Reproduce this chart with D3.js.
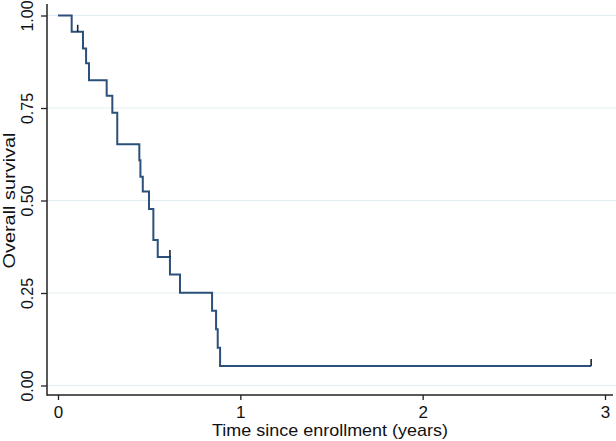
<!DOCTYPE html>
<html>
<head>
<meta charset="utf-8">
<script src="https://cdn.jsdelivr.net/npm/d3@7"></script>
<style>
  body { margin: 0; background: #fff; }
  text { font-family: "Liberation Sans", Arial, sans-serif; fill: #111; }
</style>
</head>
<body>
<div id="container"></div>
<script>
// Kaplan-Meier steps
var eventTimes = [0.075, 0.137, 0.154, 0.170, 0.267, 0.298, 0.325, 0.446, 0.452, 0.465,
                  0.499, 0.523, 0.547, 0.614, 0.669, 0.845, 0.867, 0.876, 0.889];
var survival = [0.956, 0.911, 0.871, 0.825, 0.783, 0.737, 0.652, 0.609, 0.564, 0.524,
                0.477, 0.393, 0.347, 0.300, 0.251, 0.202, 0.152, 0.102, 0.053];
var censorTimes = [0.108, 0.614, 2.924];
var censorSurv = [0.956, 0.347, 0.053];
var yTicks = [0, 0.25, 0.5, 0.75, 1];
var xTicks = [0, 1, 2, 3];

var width = 616,
    height = 441;

var svg = d3.select("#container").append("svg")
    .attr("width", width)
    .attr("height", height);

var x = d3.scaleLinear().domain([0, 3]).range([58, 605]);
var y = d3.scaleLinear().domain([0, 1]).range([385.5, 15.5]);

var axisX = 47, axisY = 395;

// gridlines
svg.selectAll(".grid").data(yTicks)
    .enter().append("line")
    .attr("x1", axisX).attr("x2", width)
    .attr("y1", function (d) { return y(d); })
    .attr("y2", function (d) { return y(d); })
    .attr("stroke", "#e3edf1")
    .attr("stroke-width", 1.2);

// y axis
var gy = svg.append("g")
    .attr("transform", "translate(" + axisX + ",0)")
    .call(d3.axisLeft(y).tickValues(yTicks).tickSize(6).tickPadding(8)
        .tickFormat(d3.format(".2f")));
gy.select(".domain").remove();
gy.selectAll(".tick line").attr("stroke", "#222").attr("stroke-width", 1.3);
gy.selectAll(".tick text")
    .attr("x", null).attr("dy", null)
    .attr("transform", "translate(-14,0) rotate(-90)")
    .attr("text-anchor", "middle")
    .style("font-size", "16px");

// x axis
var gx = svg.append("g")
    .attr("transform", "translate(0," + axisY + ")")
    .call(d3.axisBottom(x).tickValues(xTicks).tickSize(5).tickPadding(6)
        .tickFormat(d3.format("d")));
gx.select(".domain").remove();
gx.selectAll(".tick line").attr("stroke", "#222").attr("stroke-width", 1.3);
gx.selectAll(".tick text").style("font-size", "17px");

// axis lines
svg.append("line").attr("x1", axisX).attr("x2", axisX).attr("y1", 4).attr("y2", axisY + 0.7)
    .attr("stroke", "#222").attr("stroke-width", 1.5);
svg.append("line").attr("x1", axisX).attr("x2", 613).attr("y1", axisY).attr("y2", axisY)
    .attr("stroke", "#222").attr("stroke-width", 1.5);

// titles
svg.append("text")
    .attr("transform", "translate(15," + ((y(0) + y(1)) / 2) + ") rotate(-90)")
    .attr("text-anchor", "middle")
    .attr("textLength", 136).attr("lengthAdjust", "spacingAndGlyphs")
    .style("font-size", "16px")
    .text("Overall survival");

svg.append("text")
    .attr("x", (axisX + 613) / 2)
    .attr("y", 436)
    .attr("text-anchor", "middle")
    .attr("textLength", 236).attr("lengthAdjust", "spacingAndGlyphs")
    .style("font-size", "17px")
    .text("Time since enrollment (years)");

// survival curve
var pts = [[0, 1]];
eventTimes.forEach(function (t, i) { pts.push([t, survival[i]]); });
pts.push([censorTimes[censorTimes.length - 1], survival[survival.length - 1]]);

var line = d3.line()
    .x(function (d) { return x(d[0]); })
    .y(function (d) { return y(d[1]); })
    .curve(d3.curveStepAfter);

svg.append("path")
    .datum(pts)
    .attr("d", line)
    .attr("fill", "none")
    .attr("stroke", "#2b5079")
    .attr("stroke-width", 2);

// censoring marks
svg.selectAll(".censor").data(censorTimes)
    .enter().append("line")
    .attr("x1", function (d) { return x(d); })
    .attr("x2", function (d) { return x(d); })
    .attr("y1", function (d, i) { return y(censorSurv[i]); })
    .attr("y2", function (d, i) { return y(censorSurv[i]) - 7; })
    .attr("stroke", "#1c2530")
    .attr("stroke-width", 1.6);
</script>
</body>
</html>
